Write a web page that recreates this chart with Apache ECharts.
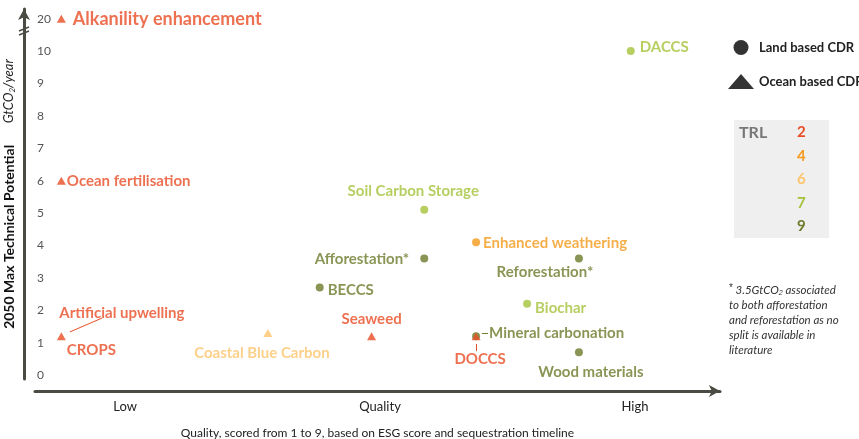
<!DOCTYPE html>
<html>
<head>
<meta charset="utf-8">
<script src="https://cdn.jsdelivr.net/npm/echarts@6/dist/echarts.min.js"></script>
<style>
html,body{margin:0;padding:0;background:#fff;}
#chart{width:859px;height:439px;}
</style>
</head>
<body>
<div id="chart"></div>
<script>
// ---- data ----
const names    = ['Alkanility enhancement','Ocean fertilisation','CROPS','Artificial upwelling','Coastal Blue Carbon','Seaweed','DOCCS',
                  'Mineral carbonation','BECCS','Afforestation*','Soil Carbon Storage','Enhanced weathering','Reforestation*','Biochar','Wood materials','DACCS'];
const quality  = [1.25, 1.25, 1.25, 1.25, 3.68, 4.9, 6.13, 6.13, 4.29, 5.52, 5.52, 6.13, 7.34, 6.73, 7.34, 7.95];
const potential= [20, 6, 1.2, 1.2, 1.3, 1.2, 1.2, 1.2, 2.7, 3.6, 5.1, 4.1, 3.6, 2.2, 0.7, 10];
const trl      = [2, 2, 2, 2, 6, 2, 2, 9, 9, 9, 7, 4, 9, 7, 9, 7];
const basis    = ['Ocean','Ocean','Ocean','Ocean','Ocean','Ocean','Ocean','Land','Land','Land','Land','Land','Land','Land','Land','Land'];
const yTicks   = [0,1,2,3,4,5,6,7,8,9,10,20];
const xTicks   = ['Low','Quality','High'];
const xTickPos = [2, 5, 8];
const trlLevels= [2, 4, 6, 7, 9];

// ---- styles ----
const trlColor = {2:'#e84d26', 4:'#f49a1c', 6:'#fcc46b', 7:'#a5c23a', 9:'#6c7b2a'};
const FONT = 'Lato';
// broken axis: values above 10 are drawn compressed (20 sits one unit above 10)
const pos = v => v > 10 ? 10 + (v - 10) / 10 : v;

const labelCfg = {
  'Alkanility enhancement': {position:'right', distance:7, fontSize:18},
  'Ocean fertilisation':    {position:'right', distance:1},
  'CROPS':                  {position:'right', distance:1, offset:[0,14]},
  'Artificial upwelling':   {position:'right', distance:-2, offset:[0,-23]},
  'Coastal Blue Carbon':    {position:'bottom', distance:9, offset:[-6,0]},
  'Seaweed':                {position:'top', distance:5},
  'DOCCS':                  {position:'bottom', distance:12, offset:[4,0]},
  'Mineral carbonation':    {position:'right', distance:9, offset:[0,-3]},
  'BECCS':                  {position:'right', distance:4, offset:[0,3]},
  'Afforestation*':         {position:'left', distance:11, offset:[0,1]},
  'Soil Carbon Storage':    {position:'top', distance:7, offset:[-11,0]},
  'Enhanced weathering':    {position:'right', distance:3, offset:[0,1]},
  'Reforestation*':         {position:'bottom', distance:2, offset:[-34,0]},
  'Biochar':                {position:'right', distance:4, offset:[0,4]},
  'Wood materials':         {position:'bottom', distance:8, offset:[12,0]},
  'DACCS':                  {position:'right', distance:5, offset:[0,-4]}
};

function buildData(kind){
  const out = [];
  names.forEach((n,i)=>{
    if (basis[i] !== kind) return;
    const c = trlColor[trl[i]];
    const lc = labelCfg[n] || {};
    const hideSymbol = (n === 'Artificial upwelling');
    out.push({
      name:n,
      value:[quality[i], pos(potential[i]), potential[i]],
      symbolSize: hideSymbol ? 0 : (kind==='Land' ? 8 : [9,8]),
      itemStyle:{color:c},
      label:{
        show:true, formatter:n, color:c,
        position:lc.position, distance:lc.distance, offset:lc.offset||[0,0],
        fontSize:lc.fontSize||15, fontWeight:'bold', fontFamily:FONT
      }
    });
  });
  return out;
}

const leaderStyle = {color:'#e84d26', width:1, type:'solid'};
const chart = echarts.init(document.getElementById('chart'), null, {renderer:'canvas'});
chart.setOption({
  backgroundColor:'#fff',
  animation:false,
  textStyle:{fontFamily:FONT},
  grid:{left:35, right:139, top:9, bottom:60, containLabel:false, outerBoundsMode:'none'},
  legend:{
    orient:'vertical', left:723, top:35, itemWidth:26, itemHeight:15, itemGap:19,
    textStyle:{fontSize:13, fontWeight:'bold', color:'#222', fontFamily:FONT},
    data:[{name:'Land based CDR', icon:'circle'},{name:'Ocean based CDR', icon:'triangle'}]
  },
  xAxis:{
    type:'value', min:0.94, max:9, offset:12,
    axisLine:{show:true, onZero:false, lineStyle:{color:'#4b4b43', width:3}, symbol:['none','arrow'], symbolSize:[9,11]},
    axisTick:{show:false}, splitLine:{show:false},
    axisLabel:{customValues:xTickPos, formatter:v=>xTicks[xTickPos.indexOf(v)]||'', color:'#222', fontSize:13, margin:9, fontFamily:FONT},
    name:'Quality, scored from 1 to 9, based on ESG score and sequestration timeline',
    nameLocation:'middle', nameGap:36, nameTextStyle:{fontSize:12, color:'#222', fontFamily:FONT}
  },
  yAxis:{
    type:'value', min:-0.123, max:11.3, offset:11,
    axisLine:{show:true, onZero:false, lineStyle:{color:'#4b4b43', width:3}, symbol:['none','arrow'], symbolSize:[9,11]},
    axisTick:{show:false}, splitLine:{show:false},
    axisLabel:{inside:true, margin:13, customValues:yTicks.map(pos), formatter:v=>{
      const k = yTicks.map(pos).findIndex(p=>Math.abs(p-v)<1e-6); return k>=0? String(yTicks[k]) : '';
    }, color:'#555', fontSize:12, fontFamily:FONT},
    name:'{t|2050 Max Technical Potential}       {u|GtCO}{us|2}{u|/year}',
    nameLocation:'middle', nameRotate:90, nameGap:8,
    nameTextStyle:{rich:{
      t:{fontSize:14, fontWeight:'bold', color:'#111', fontFamily:FONT},
      u:{fontSize:13, fontStyle:'italic', color:'#222', fontFamily:FONT},
      us:{fontSize:8, fontStyle:'italic', color:'#222', fontFamily:FONT, verticalAlign:'bottom', padding:[6,0,0,0]}
    }}
  },
  series:[
    {
      name:'Land based CDR', type:'scatter', symbol:'circle', itemStyle:{color:'#000'}, z:2,
      data:buildData('Land')
    },
    {
      name:'Ocean based CDR', type:'scatter', symbol:'triangle', itemStyle:{color:'#000'}, z:3,
      data:buildData('Ocean'),
      markLine:{
        silent:true, symbol:['none','none'], label:{show:false}, lineStyle:leaderStyle, animation:false,
        data:[
          [{coord:[1.35,1.33]},{coord:[1.73,1.76]}],
          [{coord:[6.13,0.96]},{coord:[6.13,0.74]}],
          [{coord:[6.2,1.3], lineStyle:{color:'#6c7b2a'}},{coord:[6.27,1.3]}]
        ]
      }
    }
  ],
  graphic:[
    // axis break mark
    {type:'line', shape:{x1:19,y1:31,x2:29,y2:27}, style:{stroke:'#4b4b43', lineWidth:1.5}},
    {type:'line', shape:{x1:19,y1:35,x2:29,y2:31}, style:{stroke:'#4b4b43', lineWidth:1.5}},
    // TRL box
    {type:'rect', shape:{x:734, y:120, width:95, height:118}, style:{fill:'#efefef'}},
    {type:'text', x:739, y:125, style:{text:'TRL', fontSize:16, fontWeight:'bold', fill:'#777', fontFamily:FONT}},
  ].concat(trlLevels.map((t,i)=>({
    type:'text', x:797, y:125 + i*23.5, style:{text:String(t), fontSize:15, fontWeight:'bold', fill:trlColor[t], fontFamily:FONT}
  }))).concat([
    {type:'text', x:729, y:283, style:{
      text:'{s|*} 3.5GtCO{b|2} associated\nto both afforestation\nand reforestation as no\nsplit is available in\nliterature',
      fontSize:11.5, fontStyle:'italic', fill:'#333', fontFamily:FONT, lineHeight:15,
      rich:{s:{fontSize:10, verticalAlign:'top', fill:'#333'}, b:{fontSize:7, fontStyle:'italic', fill:'#333', padding:[5,0,0,0]}}
    }}
  ])
});
</script>
</body>
</html>
